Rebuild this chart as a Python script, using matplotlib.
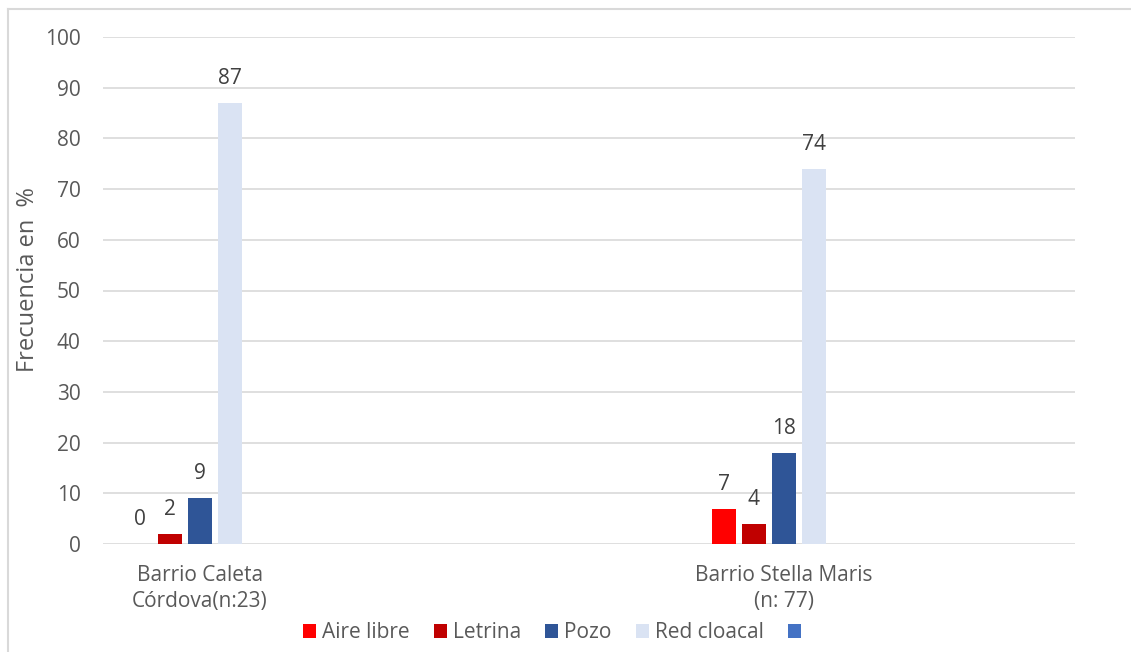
import numpy as np
import matplotlib.pyplot as plt
from matplotlib.lines import Line2D
from matplotlib.patches import Patch

plt.rcParams['font.family'] = ['Open Sans', 'DejaVu Sans']

# datos
barrios = ['Barrio Caleta\nCórdova(n:23)', 'Barrio Stella Maris\n(n: 77)']
series = ['Aire libre', 'Letrina', 'Pozo', 'Red cloacal', '']
aire_libre = [0, 7]
letrina = [2, 4]
pozo = [9, 18]
red_cloacal = [87, 74]
serie5 = [np.nan, np.nan]
colores = ['#FF0000', '#C00000', '#2F5597', '#DAE3F3', '#4472C4']
yticks = [0, 10, 20, 30, 40, 50, 60, 70, 80, 90, 100]

valores = [aire_libre, letrina, pozo, red_cloacal, serie5]
gris = '#595959'

fig = plt.figure(figsize=(11.31, 6.52), dpi=100)
ax = fig.add_axes([103/1131, 1 - 544/652, (1075-103)/1131, (544-37)/652])

x = np.arange(len(barrios))
paso = 30/584
ancho = 23.5/584
for i, (vals, col) in enumerate(zip(valores, colores)):
    pos = x + (i - 2) * paso
    ax.bar(pos, vals, width=ancho, color=col, zorder=3)
    for p, v in zip(pos, vals):
        if not np.isnan(v):
            ax.annotate(str(v), (p, v), xytext=(0, 10), textcoords='offset points',
                        ha='center', va='bottom', fontsize=15, color='#404040')

ax.set_xlim((103-200)/584, (1075-200)/584)
ax.set_ylim(0, 100)
ax.set_yticks(yticks)
ax.set_xticks(x)
ax.set_xticklabels(barrios, linespacing=1.3)
ax.tick_params(axis='both', length=0, labelsize=15, labelcolor=gris)
ax.tick_params(axis='y', pad=16)
ax.tick_params(axis='x', pad=15)
ax.grid(axis='y', color='#D9D9D9', linewidth=1.2, zorder=0)
for s in ax.spines.values():
    s.set_visible(False)
ax.set_ylabel('Frecuencia en  %', fontsize=17, color=gris)
ax.yaxis.set_label_coords((40-103)/972, (544-280)/507)

handles = [Patch(facecolor=c) for c in colores]
fig.legend(handles, series, loc='center', bbox_to_anchor=(555/1131, 1 - 633/652),
           ncol=5, frameon=False, fontsize=15, labelcolor=gris,
           handlelength=0.63, handleheight=0.63, handletextpad=0.3, columnspacing=1.15)

# borde del grafico
fig.add_artist(Line2D([8/1131, 8/1131], [0, 1 - 9/652], color='#D9D9D9', lw=1.5))
fig.add_artist(Line2D([8/1131, 1], [1 - 9/652, 1 - 9/652], color='#D9D9D9', lw=1.5))

fig.savefig('out.png', dpi=100)
